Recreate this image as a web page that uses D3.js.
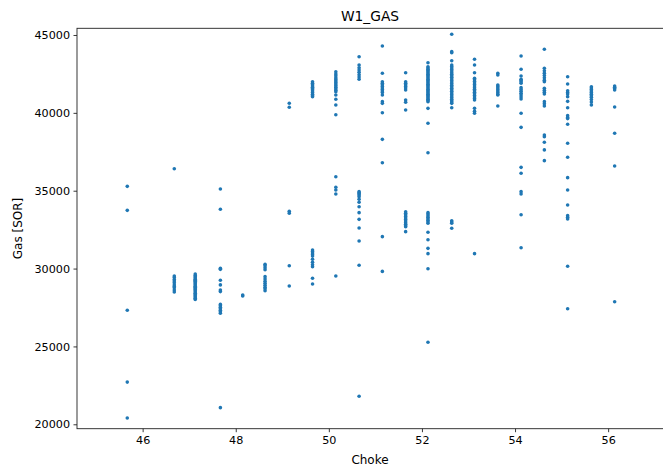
<!DOCTYPE html>
<html>
<head>
<meta charset="utf-8">
<script src="https://cdn.jsdelivr.net/npm/d3@7"></script>
<style>
  body { margin: 0; background: #fff; }
  text { font-family: "DejaVu Sans", sans-serif; fill: #000; }
</style>
</head>
<body>
<div id="chart"></div>
<script>
// choke settings (x) and the gas readings seen at each one
var chokes = [45.67, 46.68, 47.13, 47.67, 48.15, 48.63, 49.15, 49.65, 50.15, 50.65, 51.15,
              51.65, 52.13, 52.64, 53.13, 53.63, 54.13, 54.63, 55.13, 55.64, 56.14];

var gas4567 = [35280, 33740, 27320, 22710, 20400];
var gas4668 = [36410, 29520, 29420, 29300, 29200, 29090, 28950, 28850, 28770, 28620, 28500];
var gas4713 = [29650, 29560, 29480, 29400, 29320, 29250, 29180, 29100, 29020, 28950, 28870,
               28800, 28720, 28650, 28580, 28500, 28420, 28340, 28250, 28180, 28100, 28020];
var gas4767 = [35110, 33810, 30020, 29950, 29250, 28950, 28620, 28520, 27700, 27620, 27520,
               27420, 27320, 27220, 27130, 21070];
var gas4815 = [28300, 28240];
var gas4863 = [30280, 30180, 30050, 29920, 29480, 29330, 29180, 29050, 28930, 28800, 28700, 28580];
var gas4915 = [40620, 40360, 33680, 33560, 30180, 28880];
var gas4965 = [42000, 41900, 41800, 41720, 41640, 41560, 41480, 41400, 41300, 41200, 41100,
               41040, 31190, 31100, 31000, 30900, 30800, 30600, 30400, 30250, 30120, 29380, 29010];
var gas5015 = [42640, 42500, 42380, 42250, 42150, 42050, 41950, 41850, 41750, 41650, 41550,
               41450, 41360, 41150, 40870, 40500, 39880, 35900, 35220, 35050, 34790, 29520];
var gas5065 = [43600, 43070, 42900, 42750, 42600, 42450, 42300, 42160, 34940, 34870, 34800,
               34720, 34620, 34450, 34260, 33970, 33590, 33160, 32610, 31770, 30210, 21800];
var gas5115 = [44290, 42540, 42000, 41900, 41800, 41700, 41600, 41500, 41400, 41300, 41150,
               40720, 40610, 40010, 38300, 36800, 32050, 29820];
var gas5165 = [42580, 42000, 41900, 41800, 41700, 41600, 41470, 40830, 40680, 40180, 33650,
               33550, 33450, 33350, 33250, 33150, 33050, 32950, 32850, 32750, 32690, 32370];
var gas5213 = [43220, 42960, 42880, 42800, 42720, 42640, 42560, 42480, 42400, 42320, 42240,
               42160, 42080, 42000, 41920, 41840, 41760, 41680, 41600, 41520, 41440, 41360,
               41280, 41200, 41120, 41040, 40960, 40880, 40800, 40720, 40290, 39330, 37440,
               33590, 33500, 33400, 33300, 33200, 33100, 33000, 32910, 32330, 31850, 31300,
               30960, 29990, 25270];
var gas5264 = [45050, 43930, 43860, 43350, 43070, 42980, 42880, 42780, 42680, 42580, 42480,
               42380, 42280, 42180, 42080, 41980, 41880, 41780, 41680, 41580, 41480, 41380,
               41280, 41180, 41080, 40980, 40880, 40780, 40700, 40610, 40330, 33070, 32990,
               32910, 32590];
var gas5313 = [43440, 43070, 42580, 42220, 42120, 42020, 41920, 41820, 41720, 41620, 41520,
               41420, 41320, 41220, 41120, 41020, 40920, 40830, 40290, 40100, 39970, 30960];
var gas5363 = [42540, 42430, 41790, 41700, 41600, 41500, 41400, 41300, 41200, 41150, 40440];
var gas5413 = [43650, 42800, 42370, 42160, 42080, 42000, 41900, 41620, 41500, 41380, 41260,
               41140, 41020, 40890, 39970, 39070, 36500, 36120, 34940, 34790, 33460, 31340];
var gas5463 = [44080, 42860, 42700, 42550, 42400, 42250, 42100, 42000, 41580, 41450, 41330,
               41210, 40720, 40580, 40440, 38580, 38470, 38110, 37620, 36930];
var gas5513 = [42320, 41850, 41420, 41300, 41210, 41040, 40740, 40330, 39820, 39700, 39630,
               39270, 38050, 37150, 35840, 35050, 34080, 33400, 33300, 33190, 30150, 27420];
var gas5564 = [41680, 41600, 41500, 41400, 41300, 41200, 41100, 41000, 40850, 40700, 40510];
var gas5614 = [41720, 41640, 41560, 41470, 40380, 38690, 36590, 27870];

var xTicks = [46, 48, 50, 52, 54, 56];
var yTicks = [20000, 25000, 30000, 35000, 40000, 45000];

var gasColumns = [gas4567, gas4668, gas4713, gas4767, gas4815, gas4863, gas4915, gas4965,
                  gas5015, gas5065, gas5115, gas5165, gas5213, gas5264, gas5313, gas5363,
                  gas5413, gas5463, gas5513, gas5564, gas5614];

var points = [];
gasColumns.forEach(function(col, i) {
  col.forEach(function(g) { points.push({choke: chokes[i], gas: g}); });
});

var w = 663, h = 467;
// plot box edges (names avoid window.top)
var pLeft = 77, pRight = 664, pTop = 28.3, pBottom = 428.7;

var svg = d3.select("#chart").append("svg")
  .attr("width", w)
  .attr("height", h);

var x = d3.scaleLinear().domain([44.59, 57.2]).range([pLeft, pRight]);
var y = d3.scaleLinear().domain([19717, 45430]).range([pBottom, pTop]);

svg.append("g")
  .selectAll("circle")
  .data(points)
  .enter()
  .append("circle")
  .attr("cx", function(d) { return x(d.choke); })
  .attr("cy", function(d) { return y(d.gas); })
  .attr("r", 1.8)
  .attr("fill", "#1f77b4");

// frame
svg.append("rect")
  .attr("x", pLeft)
  .attr("y", pTop)
  .attr("width", pRight - pLeft)
  .attr("height", pBottom - pTop)
  .attr("fill", "none")
  .attr("stroke", "#222")
  .attr("stroke-width", 0.9);

var xAxis = svg.append("g")
  .attr("transform", "translate(0," + pBottom + ")")
  .call(d3.axisBottom(x).tickValues(xTicks).tickSize(3.5).tickPadding(4).tickFormat(d3.format("d")));
var yAxis = svg.append("g")
  .attr("transform", "translate(" + pLeft + ",0)")
  .call(d3.axisLeft(y).tickValues(yTicks).tickSize(3.5).tickPadding(3.5).tickFormat(d3.format("d")));

[xAxis, yAxis].forEach(function(a) {
  a.select(".domain").remove();
  a.selectAll("line").attr("stroke", "#222").attr("stroke-width", 0.9);
  a.selectAll("text").attr("font-size", 11.2).attr("font-family", "DejaVu Sans").attr("fill", "#000");
});

svg.append("text")
  .attr("x", (pLeft + 663) / 2)
  .attr("y", 21)
  .attr("text-anchor", "middle")
  .attr("font-size", 13.8)
  .text("W1_GAS");

svg.append("text")
  .attr("x", (pLeft + 663) / 2)
  .attr("y", 464)
  .attr("text-anchor", "middle")
  .attr("font-size", 12)
  .text("Choke");

svg.append("text")
  .attr("transform", "translate(22," + ((pTop + pBottom) / 2) + ") rotate(-90)")
  .attr("text-anchor", "middle")
  .attr("font-size", 12)
  .text("Gas [SOR]");
</script>
</body>
</html>
